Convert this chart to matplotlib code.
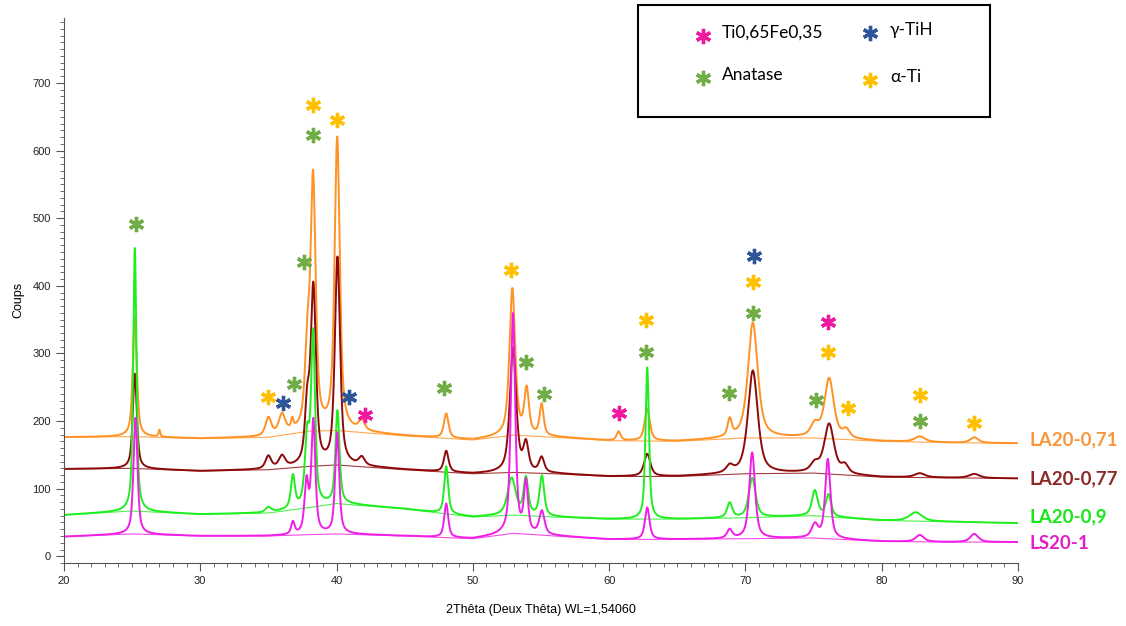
import numpy as np
import matplotlib
matplotlib.use('Agg')
import matplotlib.pyplot as plt
from matplotlib.lines import Line2D
from matplotlib.patches import Rectangle
from matplotlib.ticker import MultipleLocator

#%% data

# background (fitted hump) knots, same 2theta for all samples
bg_tt = [20, 25, 30, 35, 38, 40, 45, 50, 53, 56, 60, 65, 70, 75, 80, 85, 90]
bg_071 = [176, 177, 174, 176, 185, 186, 178, 172, 179, 176, 171, 170, 175, 175, 170, 168, 167]
bg_077 = [129, 130, 126, 128, 133, 135, 128, 122, 124, 122, 118, 118, 122, 123, 117, 116, 115]
bg_09 = [61, 67, 62, 64, 72, 78, 70, 58, 61, 58, 55, 55, 57, 60, 53, 51, 49]
bg_1 = [29, 33, 30, 30, 32, 33, 30, 26, 34, 30, 25, 25, 26, 27, 22, 21, 21]

# peaks: position (2theta), height above background (coups), fwhm (deg)
pos_071 = [25.2, 27.0, 35.0, 36.0, 36.75, 37.85, 38.28, 40.05, 41.85, 48.05, 52.9, 53.95, 55.05,
           60.7, 62.8, 68.85, 70.55, 75.1, 76.15, 77.4, 82.8, 86.8]
h_071 = [178, 10, 27, 28, 14, 105, 368, 430, 15, 36, 216, 66, 46,
         13, 47, 25, 170, 18, 88, 12, 8, 8]
w_071 = [0.35, 0.15, 0.5, 0.55, 0.2, 0.4, 0.45, 0.45, 0.5, 0.4, 0.5, 0.4, 0.35,
         0.35, 0.45, 0.35, 0.85, 0.7, 0.8, 0.6, 0.9, 0.7]

pos_077 = [25.2, 35.0, 36.0, 37.85, 38.3, 40.07, 41.85, 48.05, 52.95, 53.9, 55.05,
           62.8, 68.85, 70.55, 75.1, 76.15, 77.3, 82.8, 86.8]
h_077 = [140, 19, 17, 80, 260, 305, 12, 31, 183, 40, 22,
         33, 10, 152, 12, 73, 12, 6, 6]
w_077 = [0.35, 0.5, 0.55, 0.4, 0.45, 0.45, 0.5, 0.4, 0.55, 0.45, 0.45,
         0.55, 0.6, 0.85, 0.7, 0.85, 0.6, 0.9, 0.9]

pos_09 = [25.2, 35.0, 36.8, 37.85, 38.28, 40.07, 48.05, 52.85, 53.9, 55.07,
          62.8, 68.85, 70.5, 75.1, 76.1, 82.5]
h_09 = [389, 8, 48, 100, 250, 136, 70, 54, 54, 59,
        224, 22, 58, 37, 32, 13]
w_09 = [0.28, 0.5, 0.35, 0.4, 0.35, 0.35, 0.35, 0.7, 0.4, 0.4,
        0.3, 0.45, 0.6, 0.5, 0.45, 1.1]

pos_1 = [25.25, 36.8, 37.8, 38.3, 40.05, 48.05, 52.95, 53.9, 55.07,
         62.8, 68.85, 70.5, 75.1, 76.05, 82.8, 86.8]
h_1 = [172, 18, 75, 166, 149, 50, 324, 74, 34,
       47, 13, 127, 19, 117, 10, 12]
w_1 = [0.35, 0.3, 0.35, 0.35, 0.35, 0.35, 0.38, 0.35, 0.45,
       0.4, 0.45, 0.5, 0.55, 0.45, 0.7, 0.7]

# phase markers (asterisks)
tife_tt = [42.1, 60.7, 76.1]
tife_y = [209, 212, 346]
tih_tt = [36.1, 40.9, 70.6]
tih_y = [226, 235, 444]
anat_tt = [25.3, 36.9, 37.6, 38.3, 47.9, 53.9, 55.2, 62.7, 68.8, 70.55, 75.2, 82.8]
anat_y = [492, 255, 435, 623, 249, 287, 240, 302, 241, 360, 231, 200]
ati_tt = [35.0, 38.3, 40.0, 52.8, 62.7, 70.55, 76.1, 77.5, 82.8, 86.8]
ati_y = [235, 667, 645, 423, 349, 406, 302, 220, 238, 197]

samples = ['LA20-0,71', 'LA20-0,77', 'LA20-0,9', 'LS20-1']
phases = ['Ti0,65Fe0,35', 'γ-TiH', 'Anatase', 'α-Ti']

#%% build the patterns from the peak lists

def pattern(x, bg, pos, h, w, eta=0.65):
    y = np.interp(x, bg_tt, bg)
    for p, a, f in zip(pos, h, w):
        d = (x - p) / f
        y = y + a * (eta / (1 + 4 * d**2) + (1 - eta) * np.exp(-4 * np.log(2) * d**2))
    return y

tt = np.linspace(20, 90, 7001)
series = [
    (bg_071, pos_071, h_071, w_071, '#ff9224', '#f7963c'),
    (bg_077, pos_077, h_077, w_077, '#8e0a0a', '#8c2a2a'),
    (bg_09, pos_09, h_09, w_09, '#1fee1f', '#18e818'),
    (bg_1, pos_1, h_1, w_1, '#f01ee6', '#e01fc4'),
]
label_dy = [5, 0, 9, -2]

fig = plt.figure(figsize=(11.26, 6.26), dpi=100)
ax = fig.add_axes([0.0568, 0.1006, 0.8472, 0.8706])

for (bg, pos, h, w, col, tcol), name, dy in zip(series, samples, label_dy):
    ax.plot(bg_tt, bg, color=col, lw=0.8, alpha=0.8)
    ax.plot(tt, pattern(tt, bg, pos, h, w), color=col, lw=1.4)
    ax.text(90.85, bg[-1] + dy, name, color=tcol, fontsize=13.5, fontweight='bold',
            family='Lato', va='center', ha='left', clip_on=False)

ast = (6, 2, 0)
phase_cols = ['#f0189f', '#2e5597', '#70ad47', '#ffc000']
for tx, ty, c in zip([tife_tt, tih_tt, anat_tt, ati_tt], [tife_y, tih_y, anat_y, ati_y], phase_cols):
    ax.plot(tx, ty, ls='none', marker=ast, ms=11, mew=2.4, color=c)

ax.set_xlim(20, 90)
ax.set_ylim(-10, 796)
for s in ['top', 'right']:
    ax.spines[s].set_visible(False)
for s in ['left', 'bottom']:
    ax.spines[s].set_color('#555555')
ax.xaxis.set_major_locator(MultipleLocator(10))
ax.xaxis.set_minor_locator(MultipleLocator(1))
ax.yaxis.set_major_locator(MultipleLocator(100))
ax.yaxis.set_minor_locator(MultipleLocator(10))
ax.tick_params(which='major', length=6, color='#555555', labelsize=8, labelcolor='#222222')
ax.tick_params(which='minor', length=3, color='#555555')
for lab in ax.get_xticklabels() + ax.get_yticklabels():
    lab.set_family('Liberation Sans')

ax.set_xlabel('2Thêta (Deux Thêta) WL=1,54060', family='Liberation Sans', fontsize=9)
ax.xaxis.set_label_coords(0.5, -0.075)
ax.set_ylabel('Coups', family='Liberation Sans', fontsize=9)
ax.yaxis.set_label_coords(-0.041, 0.483)

# legend box drawn in figure pixels
W, H = 1126, 626
def fx(px): return px / W
def fy(py): return 1 - py / H

fig.add_artist(Rectangle((fx(638), fy(117)), fx(990) - fx(638), fy(5) - fy(117),
                         transform=fig.transFigure, fill=False, ec='black', lw=1.5))
leg_xy = [(703, 36, 722), (870, 33, 890), (703, 78, 722), (870, 80, 890)]
for (mx, my, tx), name, c in zip(leg_xy, phases, phase_cols):
    fig.add_artist(Line2D([fx(mx)], [fy(my)], transform=fig.transFigure, ls='none',
                          marker=ast, ms=11, mew=2.4, color=c))
    fig.text(fx(tx), fy(my - 3), name, family='Lato', fontsize=12.5, va='center', ha='left')

fig.savefig('out.png', dpi=100, facecolor='white')
